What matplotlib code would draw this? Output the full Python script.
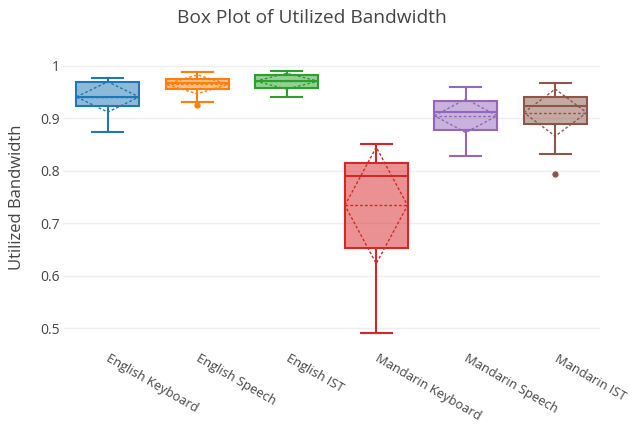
import matplotlib.pyplot as plt
from matplotlib.colors import to_rgb

plt.rcParams['font.family'] = ['Open Sans', 'DejaVu Sans']

categories = ['English Keyboard', 'English Speech', 'English IST',
              'Mandarin Keyboard', 'Mandarin Speech', 'Mandarin IST']
colors = ['#1f77b4', '#ff7f0e', '#2ca02c', '#d62728', '#9467bd', '#8c564b']

whislo = [0.874, 0.932, 0.940, 0.490, 0.829, 0.832]
q1 = [0.923, 0.957, 0.958, 0.652, 0.877, 0.889]
med = [0.940, 0.967, 0.972, 0.791, 0.912, 0.924]
q3 = [0.970, 0.976, 0.983, 0.815, 0.934, 0.941]
whishi = [0.978, 0.989, 0.991, 0.852, 0.959, 0.968]
means = [0.941, 0.965, 0.971, 0.734, 0.905, 0.911]
sds = [0.029, 0.018, 0.015, 0.111, 0.032, 0.045]
outliers = [[], [0.926], [], [], [], [0.794]]

fig = plt.figure(figsize=(6.3, 4.28), dpi=100)
ax = fig.add_axes([63 / 630, 1 - 345 / 428, 537 / 630, 295 / 428])

width = 0.7
for i, c in enumerate(colors):
    stats = [dict(whislo=whislo[i], q1=q1[i], med=med[i], q3=q3[i],
                  whishi=whishi[i], fliers=outliers[i])]
    r, g, b = to_rgb(c)
    ax.bxp(stats, positions=[i], widths=width, capwidths=width / 2,
           patch_artist=True, showfliers=True,
           boxprops=dict(facecolor=(r, g, b, 0.5), edgecolor=c, linewidth=1.5),
           medianprops=dict(color=c, linewidth=1.5),
           whiskerprops=dict(color=c, linewidth=1.5),
           capprops=dict(color=c, linewidth=1.5),
           flierprops=dict(marker='o', markersize=3.5, markerfacecolor=c,
                           markeredgecolor=c))
    # mean line and +/- sd diamond
    m, s = means[i], sds[i]
    ax.plot([i - width / 2, i + width / 2], [m, m], ls=(0, (2, 1.5)),
            color=c, lw=1)
    ax.plot([i - width / 2, i, i + width / 2, i, i - width / 2],
            [m, m + s, m, m - s, m], ls=(0, (2, 1.5)), color=c, lw=1)

ax.set_xlim(-0.5, 5.5)
ax.set_ylim(0.4676, 1.0305)
ax.set_yticks([0.5, 0.6, 0.7, 0.8, 0.9, 1.0])
ax.set_yticklabels(['0.5', '0.6', '0.7', '0.8', '0.9', '1'])
ax.set_xticks(range(6))
ax.set_xticklabels(categories, rotation=-30, ha='left', va='center',
                   rotation_mode='anchor')
ax.tick_params(axis='both', length=0, labelsize=10, colors='#444444')
ax.tick_params(axis='x', pad=9, labelsize=9.3)
ax.tick_params(axis='y', pad=2)
ax.grid(axis='y', color='#eeeeee', lw=1)
ax.set_axisbelow(True)
for sp in ax.spines.values():
    sp.set_visible(False)
ax.set_ylabel('Utilized Bandwidth', fontsize=12, color='#444444')
ax.yaxis.set_label_coords(-38 / 537, 0.5)
fig.text(312 / 630, 1 - 18 / 428, 'Box Plot of Utilized Bandwidth',
         fontsize=13.8, color='#444444', ha='center', va='center')

fig.savefig('out.png', dpi=100)
